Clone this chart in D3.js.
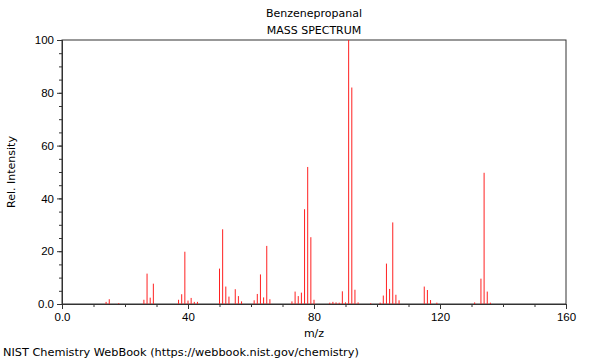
<!DOCTYPE html>
<html>
<head>
<meta charset="utf-8">
<script src="https://cdn.jsdelivr.net/npm/d3@7"></script>
<style>
body { margin: 0; background: #fff; }
svg { font-family: "DejaVu Sans", sans-serif; }
.peak { stroke: #ff2020; stroke-width: 1px; }
.axis path, .axis line { stroke: #333; }
.axis text { font-size: 11.5px; fill: #000; }
.frame { fill: none; stroke: #333; stroke-width: 1px; }
</style>
</head>
<body>
<svg id="chart" width="600" height="360"></svg>
<script>
// peaks
var mz = [14, 15, 18, 26, 27, 28, 29, 37, 38, 39, 40, 41, 42, 43,
          50, 51, 52, 53, 55, 56, 57, 61, 62, 63, 64, 65, 66,
          73, 74, 75, 76, 77, 78, 79, 80, 85, 86, 87, 88, 89, 90, 91, 92, 93, 94,
          98, 101, 102, 103, 104, 105, 106, 107, 115, 116, 117, 119,
          131, 133, 134, 135, 136];
var intensity = [0.8, 1.8, 0.3, 1.6, 11.5, 2.4, 7.7, 1.6, 3.7, 19.8, 1.3, 2.3, 0.8, 0.8,
          13.4, 28.3, 6.6, 2.8, 5.6, 3.0, 1.0, 1.4, 3.8, 11.2, 2.5, 22.0, 1.8,
          1.0, 4.7, 3.0, 4.3, 35.9, 51.9, 25.3, 1.6, 0.5, 0.8, 0.6, 0.5, 4.8, 0.6, 100, 82.0, 5.4, 0.6,
          0.3, 0.5, 3.2, 15.3, 5.7, 30.9, 3.5, 1.4, 6.6, 5.3, 1.5, 0.5,
          0.6, 9.6, 49.7, 4.7, 0.5];
var xMajor = [0, 40, 80, 120, 160];
var yMajor = [0, 20, 40, 60, 80, 100];
var titleLines = ["Benzenepropanal", "MASS SPECTRUM"];

var svg = d3.select("#chart"),
    margin = {top: 40, right: 34, bottom: 56, left: 62},
    width = +svg.attr("width") - margin.left - margin.right,
    height = +svg.attr("height") - margin.top - margin.bottom;

var g = svg.append("g").attr("transform", "translate(" + margin.left + "," + margin.top + ")");

var x = d3.scaleLinear().domain([0, 160]).range([0, width]);
var y = d3.scaleLinear().domain([0, 100]).range([height, 0]);

var fmt = function(d) { return d === 0 ? "0.0" : d3.format("d")(d); };

// minor ticks first, then labelled majors
g.append("g")
  .attr("class", "axis")
  .attr("transform", "translate(0," + height + ")")
  .call(d3.axisBottom(x).tickValues(d3.range(0, 161, 10)).tickSize(3).tickFormat(""));
g.append("g")
  .attr("class", "axis")
  .attr("transform", "translate(0," + height + ")")
  .call(d3.axisBottom(x).tickValues(xMajor).tickSize(5).tickPadding(4).tickFormat(fmt));

g.append("g")
  .attr("class", "axis")
  .call(d3.axisLeft(y).tickValues(d3.range(0, 101, 5)).tickSize(3).tickFormat(""));
g.append("g")
  .attr("class", "axis")
  .call(d3.axisLeft(y).tickValues(yMajor).tickSize(5).tickPadding(3).tickFormat(fmt));

g.append("rect")
  .attr("class", "frame")
  .attr("x", 0).attr("y", 0)
  .attr("width", width).attr("height", height);

// peaks as sticks
g.selectAll(".peak")
  .data(mz)
  .enter().append("line")
  .attr("class", "peak")
  .attr("x1", function(d) { return x(d); })
  .attr("x2", function(d) { return x(d); })
  .attr("y1", y(0))
  .attr("y2", function(d, i) { return y(intensity[i]); });

// titles and labels
svg.selectAll(".title")
  .data(titleLines)
  .enter().append("text")
  .attr("class", "title")
  .attr("x", margin.left + width / 2)
  .attr("y", function(d, i) { return 17 + i * 17; })
  .attr("text-anchor", "middle")
  .style("font-size", "11px")
  .text(function(d) { return d; });

svg.append("text")
  .attr("x", margin.left + width / 2)
  .attr("y", 337)
  .attr("text-anchor", "middle")
  .style("font-size", "11px")
  .text("m/z");

svg.append("text")
  .attr("transform", "translate(15," + (margin.top + height / 2) + ") rotate(-90)")
  .attr("text-anchor", "middle")
  .style("font-size", "11px")
  .text("Rel. Intensity");

svg.append("text")
  .attr("x", 3)
  .attr("y", 356)
  .style("font-size", "11.3px")
  .text("NIST Chemistry WebBook (https://webbook.nist.gov/chemistry)");
</script>
</body>
</html>
